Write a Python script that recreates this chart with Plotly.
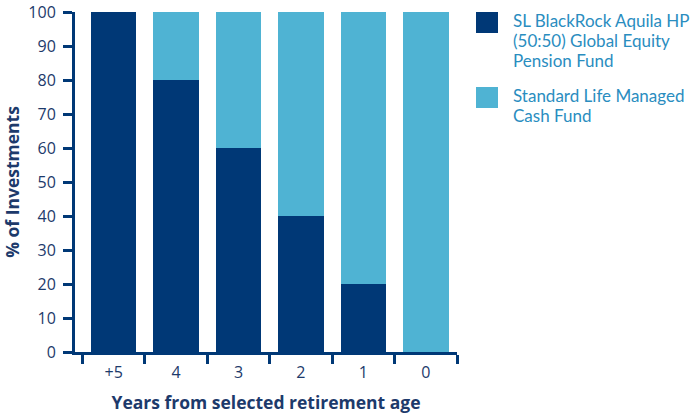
import plotly.graph_objects as go

categories = ["+5", "4", "3", "2", "1", "0"]
equity = [100, 80, 60, 40, 20, 0]
cash = [0, 20, 40, 60, 80, 100]
series_lines = [["SL BlackRock Aquila HP", "(50:50) Global Equity", "Pension Fund"],
                ["Standard Life Managed", "Cash Fund"]]
y_ticks = list(range(0, 101, 10))

NAVY = "#003876"
LIGHT = "#4fb3d3"
TEXT = "#1d3a6b"
LEG = "#2a8dbf"
FONT = "Open Sans"
LEG_FONT = "Lato"

fig = go.Figure()
fig.add_trace(go.Bar(x=categories, y=equity, marker_color=NAVY, width=0.73,
                     marker_line_width=0, name="equity", showlegend=False))
fig.add_trace(go.Bar(x=categories, y=cash, marker_color=LIGHT, width=0.73,
                     marker_line_width=0, name="cash", showlegend=False))

fig.update_layout(
    barmode="stack",
    width=698, height=414,
    margin=dict(l=75, r=241, t=12, b=62),
    plot_bgcolor="white", paper_bgcolor="white",
    font=dict(family=FONT, color=TEXT, size=16),
    xaxis=dict(
        type="category", range=[-0.62, 5.5], tickson="boundaries",
        ticks="outside", ticklen=9, tickwidth=2.5, tickcolor=NAVY,
        showline=True, linecolor=NAVY, linewidth=3, showgrid=False,
        automargin=False, ticklabelstandoff=4,
        tickfont=dict(size=16, color=TEXT),
        title=dict(text="<b>Years from selected retirement age</b>",
                   font=dict(size=17.5, color=TEXT), standoff=16),
    ),
    yaxis=dict(
        range=[0, 100], tickvals=y_ticks,
        ticks="outside", ticklen=9, tickwidth=2.5, tickcolor=NAVY,
        showline=True, linecolor=NAVY, linewidth=3, showgrid=False,
        zeroline=False, automargin=False, ticklabelstandoff=4,
        tickfont=dict(size=16, color=TEXT),
        title=dict(text="<b>% of Investments</b>",
                   font=dict(size=17.5, color=TEXT), standoff=8),
    ),
)

colors = [NAVY, LIGHT]
sq_top = [12, 87]
for lines, col, top in zip(series_lines, colors, sq_top):
    fig.add_shape(type="rect", xref="paper", yref="paper",
                  x0=(476 - 75) / 382, x1=(498 - 75) / 382,
                  y0=(352 - top - 21) / 340, y1=(352 - top) / 340,
                  fillcolor=col, line=dict(width=0))
    for i, line in enumerate(lines):
        yc = top + 8 + i * 20
        fig.add_annotation(xref="paper", yref="paper",
                           x=(512 - 75) / 382, y=(352 - yc) / 340,
                           xanchor="left", yanchor="middle", align="left",
                           showarrow=False, text=line,
                           borderpad=0,
                           font=dict(size=17, color=LEG, family=LEG_FONT))

fig.write_html("out.html")
